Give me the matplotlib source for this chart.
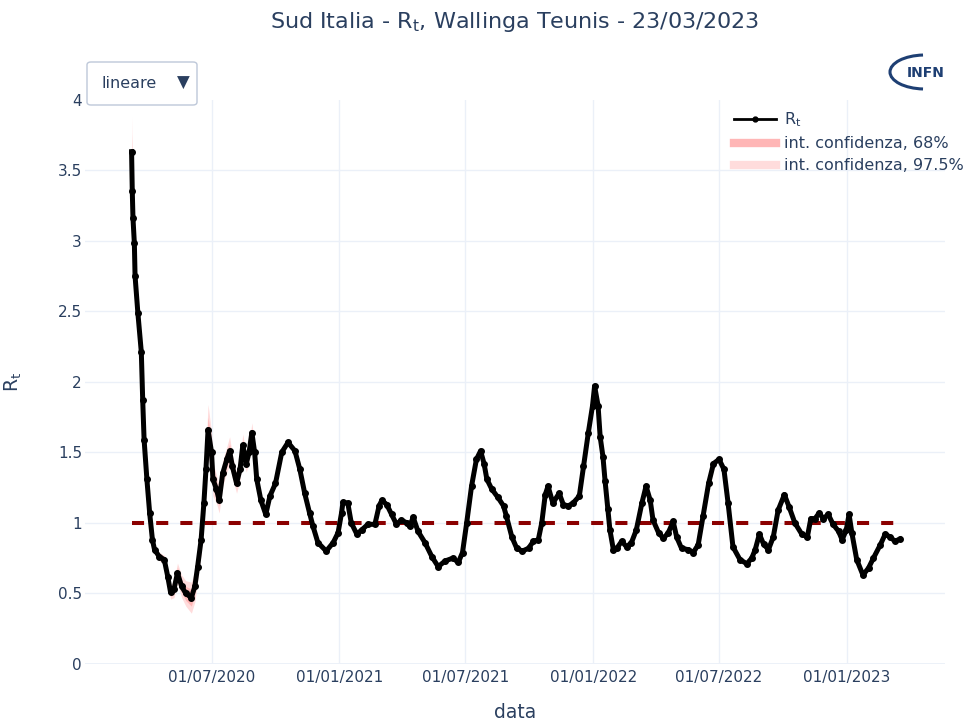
import matplotlib
matplotlib.use('Agg')
import matplotlib.pyplot as plt
import matplotlib.dates as mdates
from matplotlib.lines import Line2D
from matplotlib.patches import FancyBboxPatch, Arc
import numpy as np
import pandas as pd

# Rt values (Sud Italia, Wallinga-Teunis)
dates = [
    "2020-03-08", "2020-03-09", "2020-03-10", "2020-03-12", "2020-03-13", "2020-03-17",
    "2020-03-22", "2020-03-24", "2020-03-26", "2020-03-30", "2020-04-03", "2020-04-07",
    "2020-04-10", "2020-04-17", "2020-04-24", "2020-04-29", "2020-05-03", "2020-05-08",
    "2020-05-13", "2020-05-19", "2020-05-25", "2020-06-02", "2020-06-07", "2020-06-11",
    "2020-06-16", "2020-06-20", "2020-06-23", "2020-06-26", "2020-07-01", "2020-07-03",
    "2020-07-08", "2020-07-12", "2020-07-17", "2020-07-23", "2020-07-27", "2020-07-31",
    "2020-08-06", "2020-08-11", "2020-08-15", "2020-08-20", "2020-08-24", "2020-08-28",
    "2020-09-01", "2020-09-04", "2020-09-10", "2020-09-17", "2020-09-23", "2020-10-01",
    "2020-10-10", "2020-10-19", "2020-10-29", "2020-11-05", "2020-11-12", "2020-11-19",
    "2020-11-24", "2020-12-01", "2020-12-13", "2020-12-23", "2020-12-30",
    "2021-01-04", "2021-01-06", "2021-01-13", "2021-01-18", "2021-01-26", "2021-02-02",
    "2021-02-11", "2021-02-21", "2021-02-27", "2021-03-03", "2021-03-10", "2021-03-17",
    "2021-03-24", "2021-03-31", "2021-04-08", "2021-04-12", "2021-04-17", "2021-04-24",
    "2021-05-04", "2021-05-14", "2021-05-23", "2021-06-02", "2021-06-13", "2021-06-21",
    "2021-06-27", "2021-07-03", "2021-07-10", "2021-07-17", "2021-07-23", "2021-07-28",
    "2021-08-01", "2021-08-08", "2021-08-17", "2021-08-25", "2021-08-29", "2021-09-06",
    "2021-09-13", "2021-09-21", "2021-09-30", "2021-10-07", "2021-10-14", "2021-10-19",
    "2021-10-24", "2021-10-28", "2021-11-04", "2021-11-13", "2021-11-19", "2021-11-26",
    "2021-12-03", "2021-12-12", "2021-12-18", "2021-12-25", "2021-12-31",
    "2022-01-03", "2022-01-08", "2022-01-11", "2022-01-15", "2022-01-18", "2022-01-22",
    "2022-01-25", "2022-01-30", "2022-02-04", "2022-02-11", "2022-02-18", "2022-02-25",
    "2022-03-04", "2022-03-12", "2022-03-18", "2022-03-24", "2022-03-28", "2022-04-05",
    "2022-04-12", "2022-04-19", "2022-04-26", "2022-05-01", "2022-05-08", "2022-05-18",
    "2022-05-25", "2022-06-01", "2022-06-08", "2022-06-16", "2022-06-23", "2022-07-01",
    "2022-07-08", "2022-07-14", "2022-07-21", "2022-07-31", "2022-08-10", "2022-08-17",
    "2022-08-22", "2022-08-28", "2022-09-03", "2022-09-10", "2022-09-17", "2022-09-24",
    "2022-10-03", "2022-10-10", "2022-10-18", "2022-10-28", "2022-11-05", "2022-11-10",
    "2022-11-16", "2022-11-22", "2022-11-28", "2022-12-05", "2022-12-12", "2022-12-20",
    "2022-12-25", "2022-12-31",
    "2023-01-04", "2023-01-08", "2023-01-15", "2023-01-24", "2023-02-01", "2023-02-08",
    "2023-02-18", "2023-02-25", "2023-03-04", "2023-03-11", "2023-03-18",
]
rt = [
    3.63, 3.35, 3.16, 2.98, 2.75, 2.49,
    2.21, 1.87, 1.59, 1.31, 1.07, 0.88,
    0.81, 0.76, 0.74, 0.62, 0.51, 0.53,
    0.645, 0.55, 0.50, 0.47, 0.55, 0.69,
    0.88, 1.14, 1.38, 1.66, 1.50, 1.31,
    1.24, 1.16, 1.35, 1.45, 1.51, 1.40,
    1.28, 1.38, 1.55, 1.42, 1.50, 1.64,
    1.50, 1.31, 1.16, 1.06, 1.19, 1.28,
    1.50, 1.57, 1.51, 1.38, 1.21, 1.07,
    0.975, 0.86, 0.80, 0.86, 0.93,
    1.07, 1.145, 1.14, 1.00, 0.92, 0.95,
    0.99, 0.99, 1.12, 1.16, 1.13, 1.06,
    0.99, 1.02, 1.00, 0.975, 1.04, 0.94,
    0.86, 0.76, 0.69, 0.73, 0.75, 0.72,
    0.79, 1.00, 1.26, 1.45, 1.51, 1.42,
    1.31, 1.24, 1.18, 1.12, 1.05, 0.90,
    0.82, 0.80, 0.82, 0.87, 0.88, 1.00,
    1.20, 1.26, 1.14, 1.21, 1.13, 1.12,
    1.14, 1.19, 1.40, 1.64, 1.83,
    1.97, 1.83, 1.61, 1.47, 1.30, 1.10,
    0.95, 0.81, 0.82, 0.87, 0.83, 0.86,
    0.95, 1.14, 1.26, 1.16, 1.02, 0.93,
    0.89, 0.93, 1.01, 0.90, 0.82, 0.81,
    0.79, 0.845, 1.05, 1.28, 1.42, 1.45,
    1.38, 1.14, 0.83, 0.74, 0.71, 0.75,
    0.81, 0.92, 0.85, 0.81, 0.90, 1.09,
    1.20, 1.11, 1.00, 0.92, 0.90, 1.03,
    1.03, 1.07, 1.03, 1.06, 0.99, 0.94,
    0.88, 0.95,
    1.06, 0.93, 0.74, 0.63, 0.68, 0.75,
    0.845, 0.92, 0.90, 0.87, 0.885,
]
# half widths of the confidence bands (only visible in the first months)
hw97 = [0.25, 0.22, 0.18, 0.15, 0.12, 0.09, 0.07, 0.06, 0.05, 0.04, 0.03, 0.03,
        0.03, 0.03, 0.03, 0.04, 0.05, 0.06, 0.07, 0.08, 0.09, 0.11, 0.11, 0.10,
        0.10, 0.12, 0.15, 0.18, 0.14, 0.12, 0.10, 0.09, 0.09, 0.09, 0.10, 0.08,
        0.07, 0.07, 0.08, 0.06, 0.06, 0.07, 0.05, 0.04]
hw68 = [0.12, 0.10, 0.08, 0.07, 0.06, 0.04, 0.03, 0.03, 0.02, 0.02, 0.02, 0.02,
        0.02, 0.02, 0.02, 0.02, 0.03, 0.03, 0.04, 0.04, 0.05, 0.06, 0.05, 0.05,
        0.05, 0.06, 0.07, 0.09, 0.07, 0.06, 0.05, 0.04, 0.04, 0.05, 0.05, 0.04,
        0.03, 0.03, 0.04, 0.03, 0.03, 0.03, 0.02, 0.02]

title = 'Sud Italia - R$_{\\mathrm{t}}$, Wallinga Teunis - 23/03/2023'
xticks = ["2020-07-01", "2021-01-01", "2021-07-01", "2022-01-01", "2022-07-01", "2023-01-01"]
yticks = [0, 0.5, 1, 1.5, 2, 2.5, 3, 3.5, 4]
ytick_labels = ['0', '0.5', '1', '1.5', '2', '2.5', '3', '3.5', '4']

txt = '#2a3f5f'
grid = '#ebf0f8'

t = pd.to_datetime(dates)
y = np.array(rt)
n = len(hw97)

fig = plt.figure(figsize=(9.69, 7.26), dpi=100)
ax = fig.add_axes([85 / 969, 1 - 664 / 726, 860 / 969, 564.5 / 726])

ax.fill_between(t[:n], y[:n] - hw97, y[:n] + hw97, color='#ffdcdc', lw=0, zorder=2)
ax.fill_between(t[:n], y[:n] - hw68, y[:n] + hw68, color='#ffb6b6', lw=0, zorder=3)
ax.plot([t[0], t[-1]], [1, 1], color='#8b0000', lw=2.9, dashes=(3, 3),
        dash_capstyle='butt', zorder=4)
ax.plot(t, y, color='black', lw=3.6, marker='o', ms=4, zorder=5)

ax.set_xlim(pd.Timestamp('2020-01-01'), pd.Timestamp('2023-05-22'))
ax.set_ylim(0, 4)
ax.set_xticks(pd.to_datetime(xticks))
ax.xaxis.set_major_formatter(mdates.DateFormatter('%d/%m/%Y'))
ax.set_yticks(yticks)
ax.set_yticklabels(ytick_labels)
ax.grid(True, color=grid, lw=1)
ax.yaxis.get_gridlines()[-1].set_visible(False)
ax.axhline(0, color=grid, lw=2, zorder=1)
ax.set_axisbelow(True)
for s in ax.spines.values():
    s.set_visible(False)
ax.tick_params(length=0, labelsize=11, labelcolor=txt)
ax.tick_params(axis='x', pad=4)
ax.tick_params(axis='y', pad=2.2)

ax.set_xlabel('data', fontsize=13.5, color=txt, labelpad=13)
ax.set_ylabel('R$_{\\mathrm{t}}$', fontsize=13.5, color=txt, labelpad=24)
fig.text(515 / 969, 1 - 22 / 726, title, ha='center', va='center', fontsize=16, color=txt)

handles = [
    Line2D([], [], color='black', lw=2, marker='o', ms=3.5),
    Line2D([], [], color='#ffb6b6', lw=6),
    Line2D([], [], color='#ffdcdc', lw=6),
]
labels = ['R$_{\\mathrm{t}}$', 'int. confidenza, 68%', 'int. confidenza, 97.5%']
leg = fig.legend(handles, labels, loc='upper left', bbox_to_anchor=(728 / 969, 1 - 104 / 726),
                 frameon=False, fontsize=11.5, handlelength=2.6, handletextpad=0.5,
                 labelspacing=0.45, borderaxespad=0)
for tx in leg.get_texts():
    tx.set_color(txt)

# scale dropdown
box = FancyBboxPatch((87 / 969, 1 - 105 / 726), 110 / 969, 43 / 726,
                     boxstyle='round,pad=0,rounding_size=0.004', transform=fig.transFigure,
                     facecolor='white', edgecolor='#bec8d9', lw=1, zorder=10)
fig.patches.append(box)
fig.text(129 / 969, 1 - 83 / 726, 'lineare', ha='center', va='center', fontsize=11.5,
         color=txt, zorder=11)
fig.text(183 / 969, 1 - 83 / 726, '\u25bc', ha='center', va='center', fontsize=12,
         color=txt, zorder=11)

# INFN logo
arc = Arc((925 / 969, 1 - 72 / 726), 70 / 969, 34 / 726, theta1=95, theta2=265,
          transform=fig.transFigure, color='#1e3f73', lw=2.2)
fig.patches.append(arc)
fig.text(926 / 969, 1 - 73 / 726, 'INFN', ha='center', va='center', fontsize=10,
         fontweight='bold', color='#1e3f73')

fig.savefig('out.png', dpi=100, facecolor='white')
